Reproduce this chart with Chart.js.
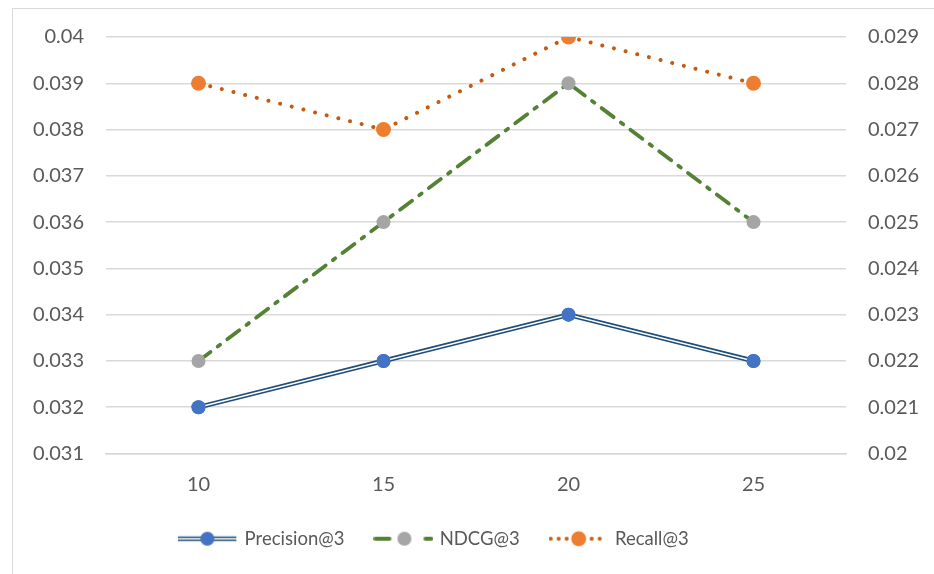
<!DOCTYPE html>
<html lang="en">
<head>
    <meta charset="UTF-8">
    <script src="https://cdn.jsdelivr.net/npm/chart.js"></script>
    <title>Precision / NDCG / Recall @3</title>
    <style>
        html, body { margin: 0; padding: 0; background: #fff; overflow: hidden; }
        #wrap { position: relative; width: 934px; height: 574px; }
        #frame { position: absolute; left: 12px; top: 8px; width: 940px; height: 600px;
                 border: 1px solid #d9d9d9; pointer-events: none; }
        canvas { position: absolute; left: 0; top: 0; }
    </style>
</head>
<body>
<div id="wrap">
    <canvas id="mychart" width="934" height="574"></canvas>
    <div id="frame"></div>
</div>

<script>
    // categories (x axis)
    const labels = ['10', '15', '20', '25'];

    // series values
    const precision = [0.032, 0.033, 0.034, 0.033];   // left axis
    const ndcg = [0.033, 0.036, 0.039, 0.036];        // left axis
    const recall = [0.028, 0.027, 0.029, 0.028];      // right axis

    // axis ranges
    const leftMin = 0.031, leftMax = 0.04;
    const rightMin = 0.02, rightMax = 0.029;
    const step = 0.001;

    const txt = '#595959';
    const grid = '#d9d9d9';
    const font = 'Lato, sans-serif';

    // small pictures for the legend: line + marker
    function legendIcon(kind) {
        const c = document.createElement('canvas');
        c.width = 60; c.height = 20;
        const g = c.getContext('2d');
        const cy = 10;
        if (kind === 'precision') {
            g.lineCap = 'butt';
            g.strokeStyle = '#1f4e79'; g.lineWidth = 4.5;
            g.beginPath(); g.moveTo(0, cy); g.lineTo(58, cy); g.stroke();
            g.strokeStyle = '#fff'; g.lineWidth = 1.4;
            g.beginPath(); g.moveTo(0, cy); g.lineTo(58, cy); g.stroke();
            g.fillStyle = '#4472c4';
            g.beginPath(); g.arc(29, cy, 7, 0, Math.PI * 2); g.fill();
        } else if (kind === 'ndcg') {
            g.lineCap = 'round';
            g.strokeStyle = '#548235'; g.lineWidth = 4;
            g.beginPath(); g.moveTo(2, cy); g.lineTo(16, cy); g.stroke();
            g.beginPath(); g.moveTo(52, cy); g.lineTo(58, cy); g.stroke();
            g.fillStyle = '#a5a5a5';
            g.beginPath(); g.arc(31, cy, 7, 0, Math.PI * 2); g.fill();
        } else {
            g.fillStyle = '#c55a11';
            [2, 10, 18, 43, 51].forEach(function (x) {
                g.beginPath(); g.arc(x, cy, 2, 0, Math.PI * 2); g.fill();
            });
            g.fillStyle = '#ed7d31';
            g.beginPath(); g.arc(30, cy, 7.5, 0, Math.PI * 2); g.fill();
        }
        return c;
    }
    const icons = [legendIcon('precision'), legendIcon('ndcg'), legendIcon('recall')];

    // white core for the double line of Precision@3
    const doubleLine = {
        id: 'doubleLine',
        afterDatasetDraw(chart, args) {
            if (args.index !== 0) return;
            const pts = args.meta.data;
            const ctx = chart.ctx;
            ctx.save();
            ctx.strokeStyle = '#fff';
            ctx.lineWidth = 1.5;
            ctx.beginPath();
            pts.forEach(function (p, i) { if (i) ctx.lineTo(p.x, p.y); else ctx.moveTo(p.x, p.y); });
            ctx.stroke();
            ctx.restore();
            pts.forEach(function (p) { p.draw(ctx, chart.chartArea); });
        }
    };

    // the legend row sits a little left of the canvas centre
    const legendShift = {
        id: 'legendShift',
        afterLayout(chart) {
            chart.legend.left -= 32;
            chart.legend.right -= 32;
        }
    };

    const data = {
        labels: labels,
        datasets: [{
            label: 'Precision@3',
            data: precision,
            yAxisID: 'y',
            borderColor: '#1f4e79',
            borderWidth: 4.8,
            backgroundColor: '#4472c4',
            pointBackgroundColor: '#4472c4',
            pointBorderColor: '#4472c4',
            pointRadius: 7,
            pointBorderWidth: 0,
            tension: 0
        }, {
            label: 'NDCG@3',
            data: ndcg,
            yAxisID: 'y',
            borderColor: '#548235',
            borderWidth: 3.8,
            borderDash: [15, 9, 3, 9],
            borderCapStyle: 'round',
            backgroundColor: '#a5a5a5',
            pointBackgroundColor: '#a5a5a5',
            pointBorderColor: '#a5a5a5',
            pointRadius: 7,
            pointBorderWidth: 0,
            tension: 0
        }, {
            label: 'Recall@3',
            data: recall,
            yAxisID: 'y1',
            borderColor: '#c55a11',
            borderWidth: 4,
            borderDash: [0.01, 12],
            borderCapStyle: 'round',
            backgroundColor: '#ed7d31',
            pointBackgroundColor: '#ed7d31',
            pointBorderColor: '#ed7d31',
            pointRadius: 7.5,
            pointBorderWidth: 0,
            tension: 0
        }]
    };

    const fmt = function (v) { return String(+v.toFixed(3)); };

    const config = {
        type: 'line',
        data: data,
        plugins: [doubleLine, legendShift],
        options: {
            responsive: false,
            animation: false,
            layout: { padding: { top: 37, left: 0, right: 0, bottom: 16 } },
            plugins: {
                tooltip: { enabled: false },
                legend: {
                    position: 'bottom',
                    labels: {
                        color: txt,
                        font: { family: font, size: 18.5 },
                        usePointStyle: true,
                        pointStyleWidth: 54,
                        padding: 32,
                        generateLabels: function (chart) {
                            return chart.data.datasets.map(function (ds, i) {
                                return {
                                    text: ds.label,
                                    fontColor: txt,
                                    pointStyle: icons[i],
                                    datasetIndex: i,
                                    hidden: false,
                                    lineWidth: 0
                                };
                            });
                        }
                    }
                }
            },
            scales: {
                x: {
                    offset: true,
                    grid: { display: false, drawTicks: false },
                    border: { display: true, color: grid, width: 1.5 },
                    ticks: { color: txt, font: { family: font, size: 20 }, padding: 19 },
                    afterFit: function (s) { s.height = 44; }
                },
                y: {
                    position: 'left',
                    min: leftMin, max: leftMax,
                    ticks: { stepSize: step, color: txt, font: { family: font, size: 20 }, padding: 22, callback: fmt },
                    grid: { color: grid, lineWidth: 1.5, drawTicks: false },
                    border: { display: false },
                    afterFit: function (s) { s.width = 106; }
                },
                y1: {
                    position: 'right',
                    min: rightMin, max: rightMax,
                    ticks: { stepSize: step, color: txt, font: { family: font, size: 20 }, padding: 22, callback: fmt },
                    grid: { display: false, drawTicks: false },
                    border: { display: false },
                    afterFit: function (s) { s.width = 88; }
                }
            }
        }
    };

    const mychart = new Chart(document.getElementById('mychart'), config);
</script>
</body>
</html>
